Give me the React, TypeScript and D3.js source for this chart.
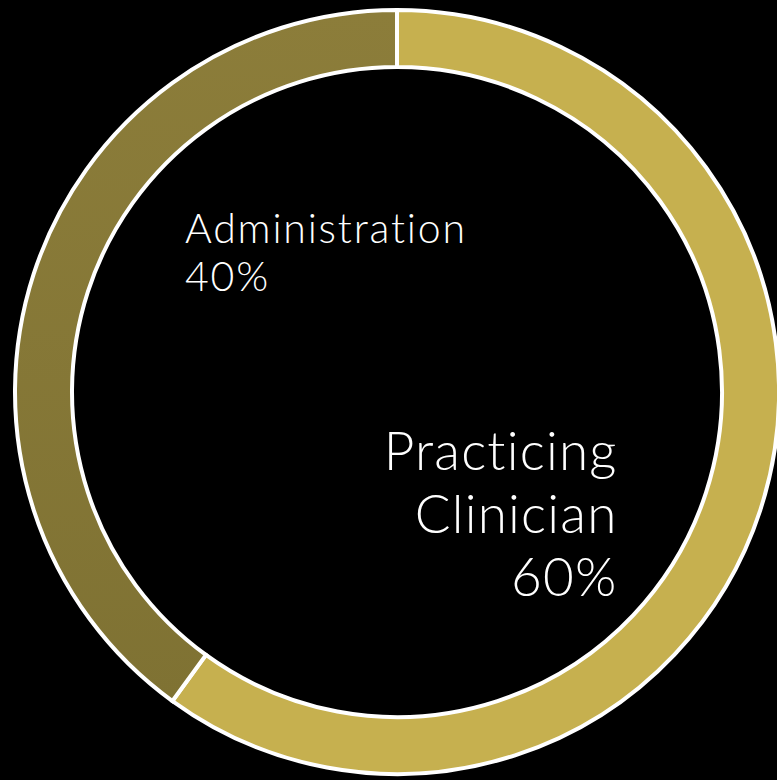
import * as d3 from "d3";

const WIDTH = 777;
const HEIGHT = 780;

const categories = ["Practicing Clinician", "Administration"];
const shares = [60, 40];
const labelLines = [
  ["Practicing", "Clinician", "60%"],
  ["Administration", "40%"],
];

const CENTER = { x: 397, y: 392 };
const OUTER_R = 382;
const INNER_R = 325;

export default function App() {
  const data = categories.map((name, i) => ({ name, value: shares[i] }));

  const pie = d3
    .pie<{ name: string; value: number }>()
    .sort(null)
    .value((d) => d.value)
    .startAngle(0)
    .endAngle(2 * Math.PI);

  const arc = d3
    .arc<d3.PieArcDatum<{ name: string; value: number }>>()
    .innerRadius(INNER_R)
    .outerRadius(OUTER_R);

  const fills = ["#C6B04F", "url(#adminGrad)"];
  const arcs = pie(data);

  return (
    <div style={{ position: "absolute", left: 0, top: 0 }}>
      <svg width={WIDTH} height={HEIGHT} style={{ display: "block" }}>
        <defs>
          <linearGradient id="adminGrad" x1="0" y1="0" x2="0" y2="1">
            <stop offset="0%" stopColor="#8C7D3A" />
            <stop offset="100%" stopColor="#7F7233" />
          </linearGradient>
        </defs>
        <rect width={WIDTH} height={HEIGHT} fill="#000" />
        <g transform={`translate(${CENTER.x},${CENTER.y})`}>
          {arcs.map((a, i) => (
            <path
              key={a.data.name}
              d={arc(a) ?? ""}
              fill={fills[i]}
              stroke="#fff"
              strokeWidth={4}
            />
          ))}
        </g>
        <g
          fill="#fff"
          style={{
            fontFamily: "Lato, 'Open Sans', sans-serif",
            fontWeight: 300,
            fontVariantLigatures: "none",
          }}
        >
          {/* Administration label */}
          {labelLines[1].map((t, i) => (
            <text
              key={t}
              x={185}
              y={243 + i * 48}
              fontSize={41}
              letterSpacing={1.8}
            >
              {t}
            </text>
          ))}
          {/* Practicing Clinician label */}
          {labelLines[0].map((t, i) => (
            <text
              key={t}
              x={617.5}
              y={470 + i * 63}
              fontSize={53}
              letterSpacing={1.2}
              textAnchor="end"
            >
              {t}
            </text>
          ))}
        </g>
      </svg>
    </div>
  );
}
